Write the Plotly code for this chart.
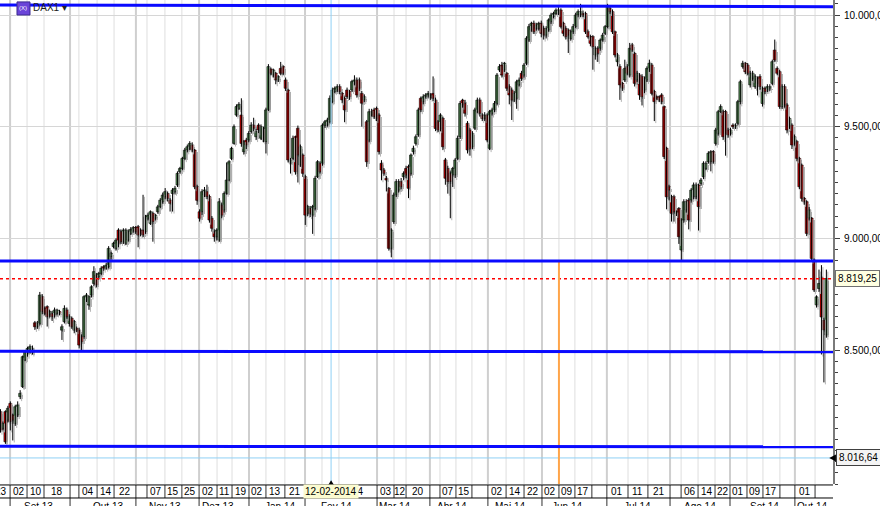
import plotly.graph_objects as go

# ---------------- data ----------------
opens = [8224,8149,8224,8186,8261,8209,8171,8209,8291,8336,8455,8485,8492,8488,8622,8604,8619,8739,8686,8694,
8657,8664,8657,8664,8672,8589,8627,8679,8619,8642,8589,8597,8589,8560,8560,8724,8701,8746,8798,8836,
8828,8843,8873,8866,8873,8918,8963,8955,9037,9030,8985,8978,8992,9022,9033,9048,9052,9037,9037,9030,
9090,9067,9112,9090,9119,9141,9164,9186,9201,9171,9201,9209,9239,9298,9313,9358,9395,9403,9418,9395,
9231,9119,9119,9194,9209,9187,9090,9030,9007,8992,9149,9127,9201,9261,9358,9425,9552,9582,9552,9388,
9440,9440,9478,9507,9455,9507,9448,9493,9433,9575,9758,9731,9739,9709,9761,9769,9709,9664,9336,9358,
9455,9493,9328,9373,9276,9112,9134,9104,9134,9276,9336,9336,9505,9507,9522,9612,9657,9664,9679,9649,
9627,9664,9657,9664,9694,9709,9709,9649,9620,9522,9440,9552,9575,9582,9552,9336,9306,9269,9224,8955,
9075,9194,9216,9254,9276,9313,9321,9291,9388,9425,9463,9627,9612,9634,9642,9631,9649,9619,9522,9492,
9537,9351,9313,9291,9284,9284,9358,9455,9619,9604,9515,9485,9410,9493,9567,9619,9552,9537,9552,9403,
9560,9575,9604,9754,9776,9754,9739,9679,9664,9619,9627,9687,9739,9731,9784,9888,9933,9963,9940,9940,
9963,9940,9910,9933,9970,9993,10007,10007,10022,9963,9940,9933,9895,9925,9948,10000,10000,10007,10007,9925,
9903,9903,9821,9851,9851,9888,9918,9948,10030,10015,9925,9791,9769,9694,9709,9769,9731,9866,9828,9709,
9731,9724,9664,9709,9754,9776,9657,9634,9634,9642,9590,9403,9231,9186,9186,9112,9134,8948,9082,9127,
9171,9171,9186,9186,9239,9246,9276,9313,9343,9343,9388,9425,9470,9567,9567,9567,9485,9470,9507,9500,
9515,9612,9769,9784,9776,9687,9716,9679,9716,9724,9604,9672,9664,9672,9694,9843,9761,9746,9590,9679,
9597,9500,9507,9425,9433,9358,9328,9179,9164,9091,9091,8903,8702,8775,8827,8634,8567]
highs = [8235,8180,8230,8250,8270,8215,8255,8270,8320,8475,8500,8515,8525,8520,8630,8630,8760,8750,8695,8700,
8680,8675,8690,8685,8680,8615,8700,8690,8660,8650,8635,8605,8600,8570,8745,8755,8745,8790,8875,8845,
8850,8875,8880,8890,8965,8940,8985,9000,9045,9040,9045,9045,9040,9050,9055,9055,9060,9045,9195,9105,
9115,9125,9120,9110,9150,9180,9205,9225,9210,9180,9225,9235,9300,9320,9365,9405,9420,9435,9430,9400,
9240,9130,9220,9230,9240,9195,9100,9040,9045,9180,9160,9210,9340,9350,9410,9510,9600,9610,9627,9440,
9450,9480,9520,9540,9490,9515,9510,9500,9585,9780,9765,9760,9745,9730,9790,9775,9720,9670,9360,9460,
9460,9505,9420,9380,9285,9150,9145,9150,9280,9350,9345,9515,9530,9540,9640,9675,9680,9690,9690,9655,
9635,9675,9665,9710,9730,9720,9720,9660,9645,9530,9580,9580,9585,9590,9560,9350,9315,9280,9230,9045,
9205,9265,9265,9270,9300,9325,9330,9380,9415,9465,9585,9635,9645,9650,9660,9650,9725,9630,9530,9560,
9545,9360,9325,9300,9320,9360,9460,9615,9625,9620,9525,9495,9480,9585,9630,9630,9560,9565,9560,9575,
9585,9615,9740,9780,9790,9790,9745,9690,9675,9660,9710,9720,9750,9785,9905,9960,9970,9975,9965,9970,
9975,9950,9950,9985,10010,10015,10030,10035,10030,9970,9950,9940,9935,9960,10010,10025,10050,10020,10015,9935,
9910,9910,9860,9860,9895,9920,9955,10050,10040,10025,9930,9830,9780,9700,9800,9780,9875,9875,9835,9750,
9740,9735,9725,9770,9800,9785,9665,9640,9640,9650,9595,9410,9240,9195,9195,9125,9140,9090,9175,9175,
9180,9225,9250,9250,9245,9270,9345,9345,9390,9395,9395,9495,9575,9600,9575,9575,9495,9495,9515,9515,
9620,9710,9795,9790,9785,9750,9750,9735,9725,9735,9680,9680,9690,9690,9800,9890,9770,9755,9690,9690,
9605,9545,9515,9465,9440,9365,9335,9185,9170,9140,9095,8910,8745,8860,8880,8645,8860]
lows = [8130,8140,8080,8175,8140,8095,8160,8200,8280,8330,8450,8470,8485,8480,8590,8595,8610,8660,8655,8605,
8645,8630,8645,8655,8655,8545,8620,8640,8605,8595,8575,8580,8507,8500,8550,8715,8680,8735,8785,8780,
8815,8835,8855,8860,8865,8905,8955,8945,8960,8975,8975,8970,8985,9015,9025,9020,8960,9010,9005,9020,
9080,9060,8985,9080,9110,9135,9155,9175,9165,9120,9120,9200,9230,9290,9305,9350,9385,9395,9385,9220,
9150,9075,9105,9185,9175,9070,9030,8985,8990,8985,9090,9115,9195,9255,9350,9420,9545,9575,9410,9375,
9400,9430,9470,9480,9440,9470,9440,9430,9380,9570,9730,9720,9690,9700,9730,9730,9660,9340,9290,9350,
9285,9250,9320,9275,9060,9100,9095,9020,9125,9270,9290,9325,9495,9500,9515,9605,9650,9655,9645,9605,
9520,9625,9620,9655,9685,9630,9660,9500,9610,9320,9430,9545,9535,9525,9375,9260,9280,9210,8945,8915,
9065,9185,9205,9220,9260,9270,9180,9280,9375,9415,9455,9565,9600,9625,9630,9620,9615,9480,9475,9480,
9395,9240,9200,9090,9230,9270,9350,9445,9585,9545,9380,9370,9400,9485,9560,9545,9525,9525,9430,9395,
9550,9565,9595,9745,9720,9745,9660,9600,9530,9610,9580,9680,9705,9720,9775,9880,9925,9915,9930,9930,
9900,9890,9895,9925,9960,9985,10000,10000,9940,9905,9890,9830,9885,9915,9940,9990,9990,9990,9915,9895,
9860,9755,9800,9790,9840,9880,9910,9940,10005,9915,9810,9770,9620,9660,9700,9730,9720,9835,9680,9700,
9620,9595,9650,9700,9745,9640,9525,9620,9610,9600,9355,9130,9170,9075,9075,9100,8975,8903,9070,9115,
9040,9160,9175,9175,9035,9235,9265,9305,9335,9300,9335,9415,9460,9560,9440,9370,9450,9460,9490,9490,
9505,9600,9760,9735,9730,9675,9705,9670,9640,9665,9590,9645,9655,9660,9685,9790,9730,9580,9580,9585,
9470,9490,9400,9415,9345,9220,9165,9150,9010,9080,8895,8760,8690,8760,8480,8355,8555]
closes = [8142,8171,8089,8239,8179,8186,8246,8254,8306,8470,8492,8507,8515,8507,8604,8619,8746,8672,8664,8649,
8672,8649,8679,8679,8664,8604,8686,8649,8649,8604,8627,8589,8522,8537,8739,8746,8739,8783,8851,8791,
8843,8866,8866,8880,8955,8933,8978,8992,8978,8985,9037,9037,9030,9040,9048,9030,9015,9022,9015,9097,
9104,9119,9075,9104,9141,9171,9194,9209,9179,9157,9216,9224,9291,9313,9358,9395,9410,9425,9395,9231,
9170,9090,9209,9216,9187,9082,9045,9007,9037,9164,9104,9201,9261,9343,9403,9500,9590,9600,9425,9433,
9418,9470,9507,9493,9478,9485,9500,9440,9575,9769,9739,9754,9709,9724,9739,9739,9672,9351,9351,9448,
9298,9373,9410,9291,9104,9142,9112,9142,9269,9343,9298,9507,9522,9530,9627,9664,9672,9679,9657,9620,
9575,9634,9634,9702,9709,9642,9672,9605,9634,9343,9567,9567,9545,9537,9388,9306,9291,9261,8955,9037,
9194,9254,9254,9231,9291,9283,9224,9373,9403,9455,9575,9575,9634,9642,9649,9642,9627,9492,9485,9552,
9410,9269,9254,9254,9313,9351,9448,9604,9597,9560,9396,9403,9470,9575,9619,9560,9537,9552,9440,9567,
9575,9604,9731,9769,9731,9784,9672,9642,9619,9649,9701,9709,9716,9776,9896,9948,9963,9925,9955,9963,
9918,9910,9940,9978,10000,10007,10022,10022,9948,9918,9903,9910,9925,9948,10000,10015,10015,10000,9925,9903,
9873,9858,9851,9828,9888,9910,9948,10037,10015,9925,9821,9821,9687,9672,9761,9739,9851,9843,9694,9739,
9642,9634,9716,9761,9784,9649,9612,9627,9619,9612,9366,9186,9216,9112,9119,9119,9007,9082,9164,9164,
9082,9216,9239,9239,9142,9261,9336,9336,9381,9388,9343,9485,9567,9590,9455,9470,9463,9485,9500,9507,
9612,9701,9784,9746,9739,9739,9739,9724,9694,9679,9672,9657,9679,9679,9791,9798,9739,9590,9679,9597,
9485,9537,9418,9455,9358,9231,9179,9164,9022,9127,8910,8769,8738,8798,8648,8590,8820]

# drawn lines (price levels)
level_lines = [(10045, 10037), (8898, 8898), (8494, 8492), (8069, 8067)]
last_price = 8819.25
cursor_price = 8016.64
cursor_date = "12-02-2014"

# bottom axis cells: left edge (candle-index units) and day label
cell_edges = [-3.5, 3.9, 10.8, 17.7, 28.3, 31.9, 39.3, 46.2, 55.1, 59.6, 66.9, 73.8, 80.8, 88.1, 94.2,
              101.1, 108.0, 115.7, 123.9, 130.8, 137.7, 153.2, 160.1, 165.0, 174.7, 178.8, 185.3, 191.8,
              198.3, 205.7, 213.0, 220.3, 227.2, 233.7, 240.6, 246.7, 255.3, 263.4, 272.4, 276.9, 283.8,
              290.7, 296.8, 303.7, 310.2, 317.1, 323.2, 331.4, 338.7]
day_labels = ["23", "02", "10", "18", "", "04", "14", "22", "", "07", "15", "25", "02", "11", "19",
              "02", "13", "21", "", "", "24", "03", "12", "20", "", "07", "15", "", "02", "14", "22",
              "02", "09", "17", "", "01", "11", "21", "", "06", "14", "22", "01", "09", "17", "", "01", ""]
month_starts = [3.9, 28.3, 55.1, 80.8, 101.1, 123.9, 153.2, 174.7, 198.3, 220.3, 246.7, 272.4, 296.8, 323.2]
month_labels = ["Set 13", "Out 13", "Nov 13", "Dez 13", "Jan 14", "Fev 14", "Mar 14", "Abr 14",
                "Mai 14", "Jun 14", "Jul 14", "Ago 14", "Set 14", "Out 14"]
month_label_pos = [15.3, 43.7, 66.9, 88.5, 113.7, 136.5, 160.5, 183.7, 207.3, 230.5, 259.0, 284.6, 311.0, 330.2]
cursor_idx = 134.5
orange_idx = 227.2

# ---------------- figure ----------------
n = len(closes)
xs = list(range(n))
X0, X1 = -0.2, 338.7
Y0, Y1 = 7900, 10067.2
FONT = "Liberation Sans, Arial, sans-serif"

# wicks as one line trace, bodies as bars with black outline
wx, wy, sx, sy = [], [], [], []
for i in xs:
    wx += [i, i, None]
    wy += [lows[i], highs[i], None]
    sx += [i + 0.6, i + 0.6, None]
    sy += [lows[i] - 9, highs[i] - 9, None]
body_base = [min(o, c) for o, c in zip(opens, closes)]
body_len = [max(abs(c - o), 3) for o, c in zip(opens, closes)]
body_col = ["#5f9f5f" if c >= o else "#e00000" for o, c in zip(opens, closes)]

fig = go.Figure()
# soft grey drop shadow of each candle
fig.add_trace(go.Scatter(x=sx, y=sy, mode="lines", line=dict(color="#b4b4b4", width=1),
                         hoverinfo="skip", showlegend=False))
fig.add_trace(go.Bar(x=[i + 0.6 for i in xs], y=body_len, base=[b - 9 for b in body_base], width=1.2,
                     marker=dict(color="#b4b4b4", line=dict(width=0)), hoverinfo="skip", showlegend=False))
fig.add_trace(go.Scatter(x=wx, y=wy, mode="lines", line=dict(color="#000000", width=1),
                         hoverinfo="skip", showlegend=False))
fig.add_trace(go.Bar(x=xs, y=body_len, base=body_base, width=1.2,
                     marker=dict(color=body_col, line=dict(color="#000000", width=0.6)),
                     hoverinfo="skip", showlegend=False))

shapes = []
# vertical grid lines + separators in the label row
for e in cell_edges[1:-1]:
    is_month = e in month_starts
    shapes.append(dict(type="line", xref="x", yref="paper", x0=e, x1=e, y0=0, y1=1, layer="below",
                       line=dict(color="#cfcfcf" if is_month else "#dedede", width=2 if is_month else 1)))
    shapes.append(dict(type="line", xref="x", yref="paper", x0=e, x1=e, y0=-0.0289 if not is_month else -0.06,
                       y1=-0.002, line=dict(color="#303030", width=1)))
# label row borders
shapes.append(dict(type="line", xref="paper", yref="paper", x0=0, x1=1, y0=-0.002, y1=-0.002,
                   line=dict(color="#000000", width=1)))
shapes.append(dict(type="line", xref="paper", yref="paper", x0=0, x1=1, y0=-0.0289, y1=-0.0289,
                   line=dict(color="#000000", width=1)))
# cursor lines
shapes.append(dict(type="line", xref="x", yref="paper", x0=cursor_idx, x1=cursor_idx, y0=0, y1=1,
                   line=dict(color="#8fd0f5", width=1)))
shapes.append(dict(type="line", xref="paper", yref="y", x0=0, x1=1, y0=cursor_price, y1=cursor_price,
                   line=dict(color="#8fd0f5", width=1)))
# last price dotted line
shapes.append(dict(type="line", xref="paper", yref="y", x0=0, x1=1, y0=last_price, y1=last_price,
                   line=dict(color="#ff0000", width=1.5, dash="dot")))
# orange vertical marker
shapes.append(dict(type="line", xref="x", yref="y", x0=orange_idx, x1=orange_idx,
                   y0=level_lines[1][0], y1=Y0, line=dict(color="#ffa54a", width=2)))
# blue level lines
for a, b in level_lines:
    shapes.append(dict(type="line", xref="x", yref="y", x0=X0, x1=X1, y0=a, y1=b,
                       line=dict(color="#0a0aff", width=3)))
# cursor date pointer triangle
shapes.append(dict(type="path", xref="x", yref="paper",
                   path=f"M {cursor_idx-1.3},-0.003 L {cursor_idx+1.3},-0.003 L {cursor_idx},0.008 Z",
                   fillcolor="#000000", line=dict(width=0)))
# cursor price pointer triangle
shapes.append(dict(type="path", xref="paper", yref="y",
                   path=f"M 0.9955,{cursor_price} L 1.0035,{cursor_price+16} L 1.0035,{cursor_price-16} Z",
                   fillcolor="#000000", line=dict(width=0)))
# instrument icon
shapes.append(dict(type="rect", xref="paper", yref="paper", x0=0.0204, x1=0.036, y0=0.969, y1=0.996,
                   fillcolor="#6a44d8", line=dict(color="#3a2a90", width=1)))

annotations = []
for i, lab in enumerate(day_labels):
    if not lab:
        continue
    annotations.append(dict(x=(cell_edges[i] + cell_edges[i + 1]) / 2, y=-0.0155, xref="x", yref="paper",
                            text=lab, showarrow=False, xanchor="center", yanchor="middle",
                            font=dict(family=FONT, size=10, color="#000000")))
for lab, p in zip(month_labels, month_label_pos):
    annotations.append(dict(x=p, y=-0.047, xref="x", yref="paper", text=lab, showarrow=False,
                            xanchor="center", yanchor="middle", font=dict(family=FONT, size=10, color="#000000")))
annotations.append(dict(x=cursor_idx, y=-0.0155, xref="x", yref="paper", text=cursor_date, showarrow=False,
                        xanchor="center", yanchor="middle", bgcolor="#fbfbd0", borderpad=1,
                        font=dict(family=FONT, size=10, color="#000000")))
annotations.append(dict(x=1, y=last_price, xref="paper", yref="y", text="8.819,25", showarrow=False,
                        xanchor="left", yanchor="middle", xshift=2, bgcolor="#ffffe1", bordercolor="#707070",
                        borderwidth=1, borderpad=2, font=dict(family=FONT, size=10, color="#000000")))
annotations.append(dict(x=1, y=cursor_price, xref="paper", yref="y", text="8.016,64", showarrow=False,
                        xanchor="left", yanchor="middle", xshift=3, bgcolor="#f4f4f4", bordercolor="#404040",
                        borderwidth=1, borderpad=2, font=dict(family=FONT, size=10, color="#000000")))
annotations.append(dict(x=0.0372, y=0.984, xref="paper", yref="paper", text="DAX1 ▾", showarrow=False,
                        xanchor="left", yanchor="middle", font=dict(family=FONT, size=10, color="#202020")))
annotations.append(dict(x=0.0282, y=0.9825, xref="paper", yref="paper", text="(X)", showarrow=False,
                        xanchor="center", yanchor="middle", font=dict(family=FONT, size=6, color="#ffffff")))

fig.update_layout(
    width=880, height=506,
    margin=dict(l=0, r=47, t=0, b=22, autoexpand=False),
    paper_bgcolor="#ffffff", plot_bgcolor="#ffffff",
    separators=",.", barmode="overlay", bargap=0,
    showlegend=False, hovermode=False,
    shapes=shapes, annotations=annotations,
    xaxis=dict(range=[X0, X1], showgrid=False, zeroline=False, showticklabels=False, ticks="",
               fixedrange=True, automargin=False),
    yaxis=dict(range=[Y0, Y1], side="right", tickvals=[8500, 9000, 9500, 10000], tickformat=",.2f",
               showgrid=True, gridcolor="#d6d6d6", gridwidth=1, zeroline=False, automargin=False,
               showline=True, linecolor="#7a7a7a", linewidth=2, fixedrange=True,
               ticks="outside", ticklen=5, tickcolor="#404040",
               minor=dict(dtick=50, tick0=0, ticks="outside", ticklen=3, tickcolor="#404040", showgrid=False),
               tickfont=dict(family=FONT, size=10, color="#000000"), ticklabelstandoff=2),
)
fig.write_html("out.html", config={"displayModeBar": False, "staticPlot": True},
               post_script="document.body.style.margin='0px';document.body.style.overflow='hidden';")
